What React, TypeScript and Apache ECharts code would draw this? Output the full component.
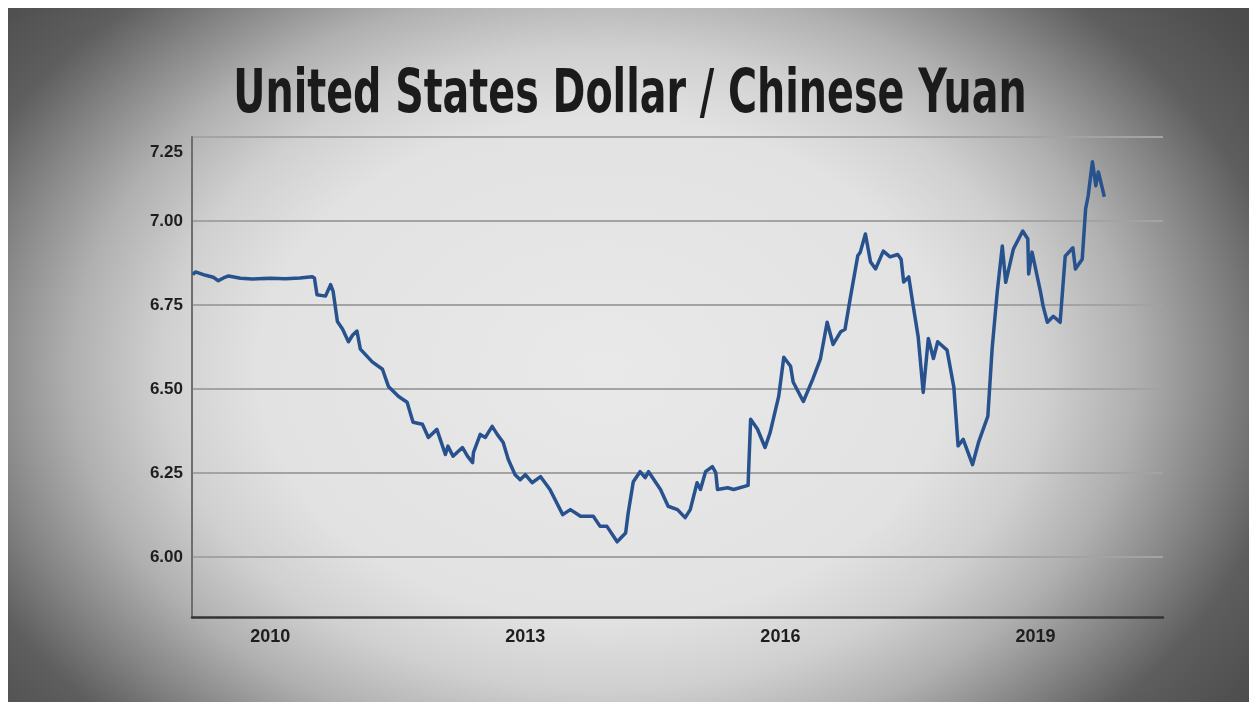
import React, { useEffect, useRef } from "react";
import * as echarts from "echarts";

const TITLE = "United States Dollar / Chinese Yuan";

const years = [
  2009.09, 2009.12, 2009.24, 2009.33, 2009.39, 2009.45, 2009.51, 2009.65, 2009.79, 2010.0,
  2010.18, 2010.35, 2010.49, 2010.52, 2010.55, 2010.65, 2010.71, 2010.74, 2010.79, 2010.85,
  2010.92, 2010.97, 2011.02, 2011.06, 2011.2, 2011.32, 2011.39, 2011.51, 2011.61, 2011.68,
  2011.79, 2011.86, 2011.96, 2012.06, 2012.09, 2012.15, 2012.26, 2012.32, 2012.38, 2012.39,
  2012.47, 2012.53, 2012.61, 2012.67, 2012.74, 2012.8, 2012.88, 2012.94, 2013.0, 2013.08,
  2013.18, 2013.29, 2013.44, 2013.53, 2013.65, 2013.8, 2013.88, 2013.96, 2014.08, 2014.18,
  2014.21, 2014.27, 2014.35, 2014.41, 2014.45, 2014.59, 2014.68, 2014.79, 2014.88, 2014.94,
  2015.02, 2015.06, 2015.12, 2015.2, 2015.24, 2015.26, 2015.38, 2015.45, 2015.62, 2015.65,
  2015.73, 2015.82, 2015.88, 2015.98, 2016.04, 2016.12, 2016.15, 2016.27, 2016.38, 2016.47,
  2016.55, 2016.62, 2016.71, 2016.76, 2016.82, 2016.91, 2016.94, 2017.0, 2017.06, 2017.12,
  2017.21, 2017.29, 2017.38, 2017.42, 2017.45, 2017.51, 2017.56, 2017.62, 2017.68, 2017.74,
  2017.8, 2017.85, 2017.96, 2018.04, 2018.09, 2018.15, 2018.26, 2018.33, 2018.44, 2018.49,
  2018.55, 2018.61, 2018.65, 2018.74, 2018.85, 2018.91, 2018.92, 2018.96, 2019.06, 2019.09,
  2019.14, 2019.21, 2019.29, 2019.35, 2019.44, 2019.47, 2019.55, 2019.59, 2019.62, 2019.67,
  2019.71, 2019.74, 2019.81,
];

const rates = [
  6.84, 6.848, 6.838, 6.832, 6.822, 6.83, 6.836, 6.829, 6.827, 6.829,
  6.828, 6.83, 6.834, 6.83, 6.78, 6.776, 6.81, 6.79, 6.7, 6.678,
  6.64, 6.66, 6.672, 6.618, 6.58, 6.558, 6.507, 6.477, 6.46, 6.4,
  6.394, 6.355, 6.379, 6.304, 6.329, 6.299, 6.325, 6.299, 6.28, 6.31,
  6.364, 6.355, 6.388, 6.364, 6.34, 6.289, 6.244, 6.229, 6.244, 6.22,
  6.238, 6.2, 6.125, 6.14, 6.12, 6.12, 6.09, 6.09, 6.044, 6.07,
  6.13, 6.223, 6.253, 6.235, 6.253, 6.2, 6.15, 6.14, 6.116, 6.14,
  6.22, 6.2, 6.253, 6.268, 6.25, 6.2, 6.205, 6.2, 6.212, 6.409,
  6.38, 6.325, 6.37, 6.477, 6.594, 6.567, 6.52, 6.462, 6.528, 6.588,
  6.698, 6.632, 6.67, 6.677, 6.767, 6.896, 6.907, 6.961, 6.878, 6.857,
  6.91, 6.893, 6.9, 6.886, 6.818, 6.833, 6.75, 6.656, 6.489, 6.65,
  6.59, 6.64, 6.615, 6.505, 6.33, 6.349, 6.274, 6.34, 6.418, 6.618,
  6.788, 6.925, 6.817, 6.916, 6.97, 6.946, 6.842, 6.907, 6.788, 6.746,
  6.698, 6.716, 6.698, 6.895, 6.92, 6.857, 6.886, 7.036, 7.075, 7.176,
  7.105, 7.146, 7.072,
];

const yTicks = [6.0, 6.25, 6.5, 6.75, 7.0, 7.25];
const xTicks = [2010, 2013, 2016, 2019];
const X_MIN = 2009.08;
const X_MAX = 2020.5;
const Y_MIN = 5.82;
const Y_MAX = 7.25;

const TITLE_FONT = '"Liberation Sans Narrow", "DejaVu Sans Condensed", "Liberation Sans", sans-serif';
const LABEL_FONT = '"Liberation Sans", "DejaVu Sans", sans-serif';

export default function App() {
  const ref = useRef<HTMLDivElement>(null);

  useEffect(() => {
    if (!ref.current) return;
    const chart = echarts.init(ref.current, null, { renderer: "svg" });

    // fit the condensed title to its width in the picture
    let scaleX = 1;
    try {
      const c = document.createElement("canvas").getContext("2d");
      if (c) {
        c.font = `bold 60px ${TITLE_FONT}`;
        const w = c.measureText(TITLE).width;
        if (w > 0) scaleX = 794 / w;
      }
    } catch (e) {
      scaleX = 1;
    }

    const data = years.map((y, i) => [y, rates[i]]);

    chart.setOption({
      animation: false,
      backgroundColor: "transparent",
      grid: { left: 184, top: 129, right: 86, bottom: 85, containLabel: false },
      graphic: [
        {
          type: "text",
          x: 622,
          y: 83,
          scaleX,
          style: {
            text: TITLE,
            fontFamily: TITLE_FONT,
            fontWeight: "bold",
            fontSize: 60,
            fill: "#1b1b1b",
            align: "center",
            verticalAlign: "middle",
          },
        },
      ],
      xAxis: {
        type: "value",
        min: X_MIN,
        max: X_MAX,
        axisLine: { show: true, onZero: false, lineStyle: { color: "#333333", width: 2.5 } },
        axisTick: { show: false, customValues: xTicks },
        splitLine: { show: false },
        axisLabel: {
          customValues: xTicks,
          formatter: (v: number) => String(Math.round(v)),
          color: "#1e1e1e",
          fontFamily: LABEL_FONT,
          fontWeight: "bold",
          fontSize: 18,
          margin: 10,
        },
      },
      yAxis: {
        type: "value",
        min: Y_MIN,
        max: Y_MAX,
        axisLine: { show: true, lineStyle: { color: "#6e6e6e", width: 2 } },
        axisTick: { show: false, customValues: yTicks },
        splitLine: { show: true, lineStyle: { color: "#a3a3a3", width: 2 } },
        axisLabel: {
          customValues: yTicks,
          formatter: (v: number) =>
            Math.abs(v - 7.25) < 1e-6 ? `{top|${v.toFixed(2)}}` : `{n|${v.toFixed(2)}}`,
          color: "#1e1e1e",
          fontFamily: LABEL_FONT,
          fontWeight: "bold",
          fontSize: 17,
          margin: 9,
          rich: {
            n: {
              color: "#1e1e1e",
              fontFamily: LABEL_FONT,
              fontWeight: "bold",
              fontSize: 17,
            },
            top: {
              color: "#1e1e1e",
              fontFamily: LABEL_FONT,
              fontWeight: "bold",
              fontSize: 17,
              padding: [28, 0, 0, 0],
            },
          },
        },
      },
      series: [
        {
          type: "line",
          data,
          showSymbol: false,
          smooth: false,
          lineStyle: { color: "#28528e", width: 3.5, join: "round" },
          itemStyle: { color: "#28528e" },
          z: 5,
        },
      ],
    });

    return () => chart.dispose();
  }, []);

  return (
    <div
      ref={ref}
      style={{
        position: "fixed",
        left: 8,
        top: 8,
        width: 1241,
        height: 694,
        background:
          "radial-gradient(ellipse 690px 500px at 48% 52%, #e9e9e9 0%, #e2e2e2 50%, #d0d0d0 64%, #b0b0b0 77%, #868686 89%, #5e5e5e 100%, #4c4c4c 115%)",
      }}
    />
  );
}
